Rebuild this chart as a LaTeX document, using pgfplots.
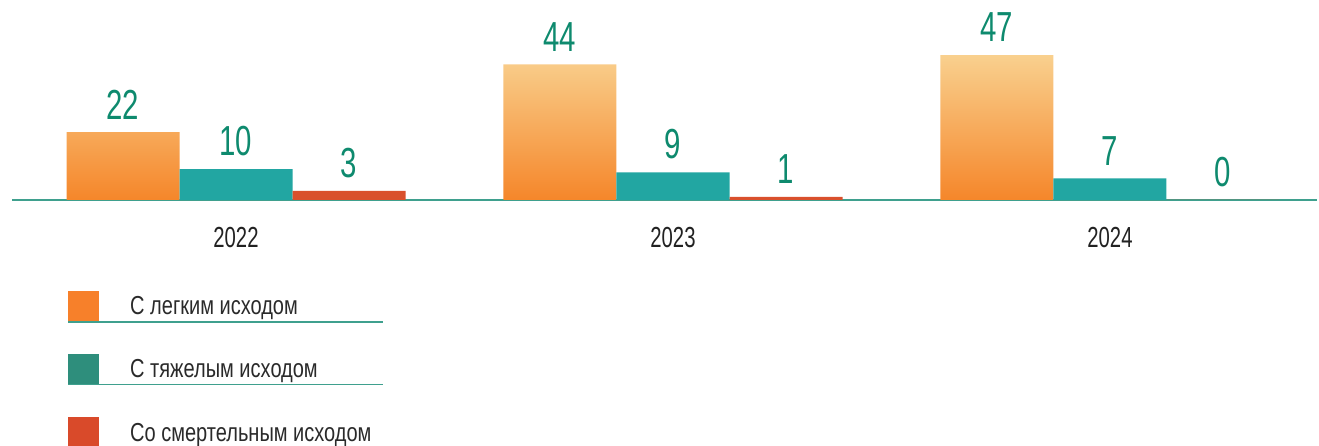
\documentclass[border=0pt]{standalone}
\usepackage{pgfplots}
\pgfplotsset{compat=1.18}
\usepackage{fontspec}
\setmainfont{Liberation Sans}
\newfontfamily\numfont{Liberation Sans}[FakeStretch=0.7]
\newfontfamily\legfont{Liberation Sans}[FakeStretch=0.77]
\definecolor{numteal}{HTML}{0E8A6E}
\definecolor{axisteal}{HTML}{3FA08E}
\definecolor{orangetop}{HTML}{F9D08E}
\definecolor{orangemid}{HTML}{F8A63C}
\definecolor{orangebot}{HTML}{F5862A}
\definecolor{barteal}{HTML}{22A6A2}
\definecolor{barred}{HTML}{D9502C}
\definecolor{legorange}{HTML}{F7802A}
\definecolor{legteal}{HTML}{2E8E7C}
\definecolor{legred}{HTML}{D94A2A}
\definecolor{yeartext}{HTML}{222222}
\definecolor{legtext}{HTML}{2A2A2A}
\begin{document}
\begin{tikzpicture}
\useasboundingbox (0,0) rectangle (1319bp,446bp);
\begin{axis}[
  at={(12bp,246bp)}, anchor=south west,
  scale only axis, width=1305bp, height=200bp,
  xmin=-0.5126, xmax=2.4737, ymin=0, ymax=64.9,
  ybar=0pt, bar width=113bp,
  axis y line=none, axis x line*=bottom,
  axis line style={draw=axisteal, line width=1.5bp, -},
  xtick={0,1,2}, xticklabels={2022,2023,2024},
  major tick length=0pt, ytick=\empty,
  xticklabel style={font=\numfont\fontsize{29bp}{32bp}\selectfont, text=yeartext, inner sep=0pt, anchor=north, yshift=-27bp},
  clip=false,
  nodes near coords={\numfont\fontsize{42bp}{46bp}\selectfont\pgfmathprintnumber[assume math mode=true]{\pgfplotspointmeta}},
  every node near coord/.append style={text=numteal, inner sep=0pt, anchor=south, yshift=13bp},
]
\addplot[draw=none, top color=orangetop, middle color=orangemid, bottom color=orangebot] coordinates {(0,22) (1,44) (2,47)};
\addplot[draw=none, fill=barteal] coordinates {(0,10) (1,9) (2,7)};
\addplot[draw=none, fill=barred] coordinates {(0,3) (1,1) (2,0)};
\end{axis}
% legend
\fill[legorange] (68bp,125bp) rectangle (99bp,155bp);
\fill[legteal] (68bp,62bp) rectangle (99bp,92bp);
\fill[legred] (68bp,0bp) rectangle (99bp,29bp);
\draw[axisteal, line width=1.5bp] (68bp,124bp) -- (383bp,124bp);
\draw[axisteal, line width=1.5bp] (68bp,61.5bp) -- (383bp,61.5bp);
\node[anchor=base west, inner sep=0pt, text=legtext] at (130bp,131bp) {\legfont\fontsize{26bp}{30bp}\selectfont С легким исходом};
\node[anchor=base west, inner sep=0pt, text=legtext] at (130bp,68.7bp) {\legfont\fontsize{26bp}{30bp}\selectfont С тяжелым исходом};
\node[anchor=base west, inner sep=0pt, text=legtext] at (130bp,4.3bp) {\legfont\fontsize{26bp}{30bp}\selectfont Со смертельным исходом};
\end{tikzpicture}
\end{document}
